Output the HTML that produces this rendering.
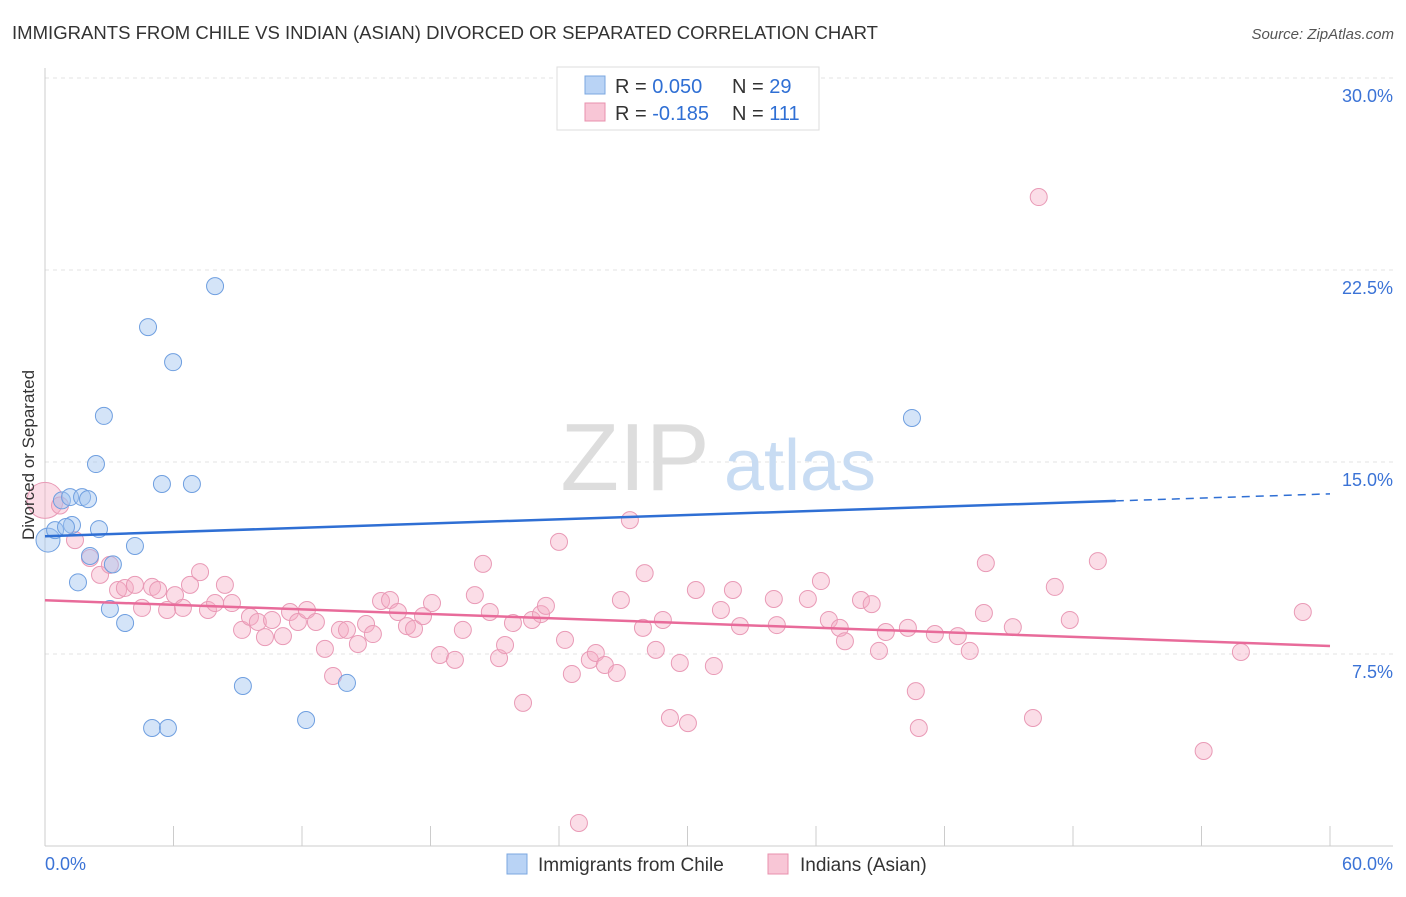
<!DOCTYPE html>
<html><head><meta charset="utf-8"><style>
body{margin:0;background:#fff;font-family:"Liberation Sans",sans-serif;}
svg text{font-family:"Liberation Sans",sans-serif;}
</style></head><body>
<svg width="1406" height="892" xmlns="http://www.w3.org/2000/svg">
<text x="12" y="39" font-size="18" fill="#333" textLength="866" lengthAdjust="spacingAndGlyphs">IMMIGRANTS FROM CHILE VS INDIAN (ASIAN) DIVORCED OR SEPARATED CORRELATION CHART</text>
<text x="1394" y="39" font-size="15" fill="#555" font-style="italic" text-anchor="end">Source: ZipAtlas.com</text>
<g id="grid"></g>
<g><text x="635" y="490" font-size="96" font-family="Liberation Serif" fill="#ddd" text-anchor="middle">ZIP</text><text x="800" y="490" font-size="72" fill="#c8dcf3" text-anchor="middle">atlas</text></g>
<g id="axes"></g>
<g id="marks"></g>
<text x="34" y="455" font-size="17" fill="#333" text-anchor="middle" transform="rotate(-90 34 455)">Divorced or Separated</text>
<g>
<rect x="557" y="67" width="262" height="63" fill="#fff" stroke="#ddd"/>
<rect x="585" y="76" width="20" height="18" fill="#b9d3f5" stroke="#7ba7e0"/>
<rect x="585" y="103" width="20" height="18" fill="#f8c6d6" stroke="#e890ad"/>
<text x="615" y="93" font-size="20" fill="#333">R = <tspan fill="#2f6fd4">0.050</tspan><tspan x="732">N = </tspan><tspan fill="#2f6fd4">29</tspan></text>
<text x="615" y="120" font-size="20" fill="#333">R = <tspan fill="#2f6fd4">-0.185</tspan><tspan x="732">N = </tspan><tspan fill="#2f6fd4">111</tspan></text>
</g>
<g>
<rect x="507" y="854" width="20" height="20" fill="#b9d3f5" stroke="#7ba7e0"/>
<text x="538" y="871" font-size="19" fill="#333">Immigrants from Chile</text>
<rect x="768" y="854" width="20" height="20" fill="#f8c6d6" stroke="#e890ad"/>
<text x="800" y="871" font-size="19" fill="#333">Indians (Asian)</text>
</g>
</svg>
<script>
const yTicks=[7.5,15,22.5,30];
const yTickLabels=["7.5%","15.0%","22.5%","30.0%"];
const xTicks=[0,6,12,18,24,30,36,42,48,54,60];
const chileX=[0.14,0.47,0.79,1.17,1.26,1.73,2.01,2.52,2.38,2.75,3.17,3.03,1.54,3.74,4.2,4.81,5.98,5.46,6.86,7.94,9.24,5.0,5.74,12.19,14.1,40.48,2.1,0.98];
const chileY=[11.95,12.34,13.5,13.63,12.54,13.63,13.55,12.38,14.92,16.8,11.0,9.26,10.3,8.71,11.72,20.27,18.9,14.14,14.14,21.87,6.25,4.61,4.61,4.92,6.37,16.72,11.33,12.46];
const indX=[0,0.7,1.4,2.1,2.57,3.03,3.41,3.73,4.2,4.53,5.0,5.28,5.7,6.07,6.44,6.77,7.24,7.61,7.94,8.4,8.73,9.2,9.57,9.94,10.27,10.6,11.11,11.44,11.81,12.23,12.65,13.07,13.45,13.77,14.1,14.61,14.99,15.31,15.69,16.11,16.48,16.9,17.23,17.65,18.07,18.44,19.14,19.51,20.07,20.45,20.77,21.2,21.48,21.85,22.32,22.74,23.16,23.39,24.0,24.28,24.6,24.93,25.44,25.72,26.14,26.7,26.89,27.31,27.92,28.0,28.52,28.85,29.18,29.64,30.02,30.39,31.23,31.56,32.12,32.45,34.03,34.17,35.62,36.23,36.6,37.11,37.35,38.1,38.6,38.94,39.26,40.29,40.66,40.8,41.55,42.62,43.18,43.84,43.93,45.19,46.13,46.4,47.15,47.85,49.16,54.1,55.84,58.73];
const indY=[13.5,13.3,11.95,11.25,10.59,10.98,10.0,10.08,10.2,9.3,10.12,10.0,9.22,9.8,9.3,10.2,10.7,9.22,9.49,10.2,9.49,8.44,8.95,8.75,8.16,8.83,8.2,9.14,8.75,9.22,8.75,7.7,6.64,8.44,8.44,7.89,8.67,8.28,9.57,9.61,9.14,8.59,8.48,8.98,9.49,7.46,7.27,8.44,9.8,11.02,9.14,7.34,7.85,8.71,5.59,8.83,9.06,9.38,11.88,8.05,6.72,0.9,7.27,7.54,7.07,6.76,9.61,12.73,8.52,10.66,7.66,8.83,5.0,7.15,4.8,10.0,7.03,9.22,10.0,8.59,9.65,8.63,9.65,10.35,8.83,8.52,8.0,9.61,9.45,7.62,8.36,8.52,6.05,4.61,8.28,8.2,7.62,9.1,11.05,8.55,5.0,25.35,10.12,8.83,11.13,3.71,7.58,9.14];
const chileFit=[12.1,0.0276];
const indFit=[9.6,-0.0298];
const NS="http://www.w3.org/2000/svg";
const X=v=>45+v/60*1285, Y=v=>846-v/7.5*192;
function mk(t,a,p){const e=document.createElementNS(NS,t);for(const k in a)e.setAttribute(k,a[k]);p.appendChild(e);return e;}
const grid=document.getElementById('grid'),axes=document.getElementById('axes'),marks=document.getElementById('marks');
yTicks.forEach((t,i)=>{const l=mk('line',{x1:45,x2:1393,y1:Y(t),y2:Y(t),stroke:'#e3e3e3','stroke-dasharray':'4 4'},grid);


const tx=mk('text',{x:1393,y:Y(t)+24,'font-size':18,fill:'#3b73d6','text-anchor':'end'},axes);tx.textContent=yTickLabels[i];

});
mk('line',{x1:45,x2:45,y1:68,y2:846,stroke:'#ccc'},axes);
mk('line',{x1:45,x2:1393,y1:846,y2:846,stroke:'#ccc'},axes);
xTicks.forEach(t=>{const l=mk('line',{x1:X(t),x2:X(t),y1:826,y2:846,stroke:'#ccc'},axes);

});
const x0=mk('text',{x:45,y:870,'font-size':18,fill:'#3b73d6'},axes);x0.textContent='0.0%';


const x1=mk('text',{x:1393,y:870,'font-size':18,fill:'#3b73d6','text-anchor':'end'},axes);x1.textContent='60.0%';


indX.forEach((x,i)=>{const c=mk('circle',{cx:X(x),cy:Y(indY[i]),r:i==0?18:8.5,fill:'rgba(244,170,196,0.4)',stroke:'#e99ab6','stroke-width':1},marks);

});
chileX.forEach((x,i)=>{const c=mk('circle',{cx:X(x),cy:Y(chileY[i]),r:i==0?12:8.5,fill:'rgba(160,195,240,0.45)',stroke:'#6f9fe0','stroke-width':1},marks);

});
const f=(p,x)=>p[0]+p[1]*x;
let l=mk('line',{x1:X(0),y1:Y(f(chileFit,0)),x2:X(50),y2:Y(f(chileFit,50)),stroke:'#2f6fd4','stroke-width':2.5},marks);


l=mk('line',{x1:X(50),y1:Y(f(chileFit,50)),x2:X(60),y2:Y(f(chileFit,60)),stroke:'#2f6fd4','stroke-width':1.5,'stroke-dasharray':'8 6'},marks);


l=mk('line',{x1:X(0),y1:Y(f(indFit,0)),x2:X(60),y2:Y(f(indFit,60)),stroke:'#e86b9a','stroke-width':2.5},marks);


</script>
</body></html>
